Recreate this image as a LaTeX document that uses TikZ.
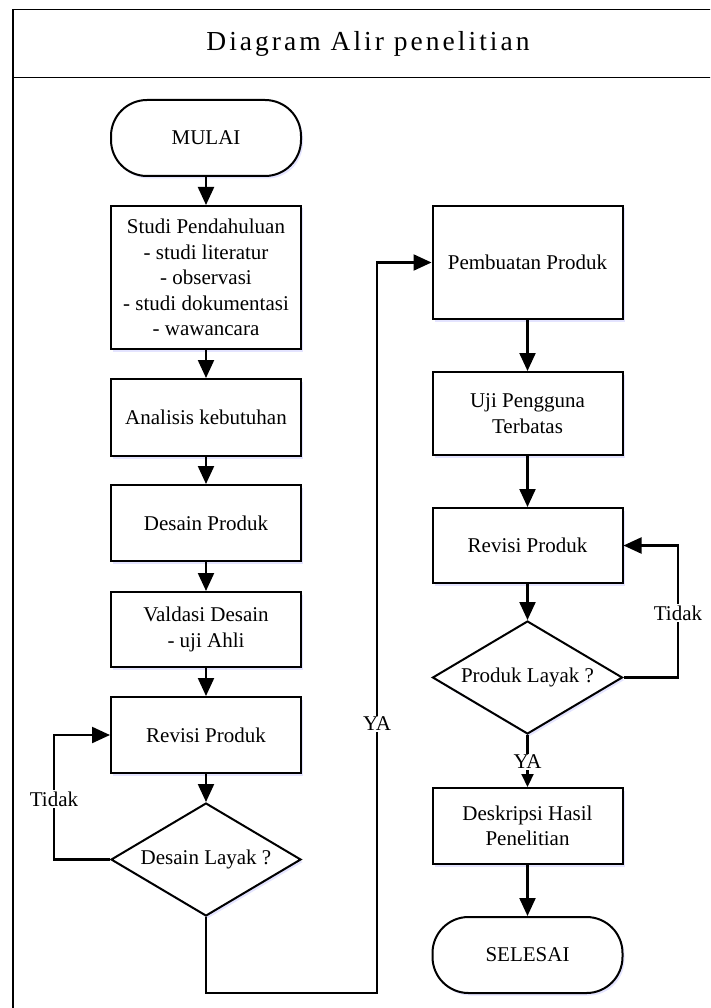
\documentclass[tikz,border=0pt]{standalone}
\usepackage{fontspec}
\setmainfont{Liberation Serif}
\usetikzlibrary{arrows.meta,shadows,shapes.geometric}

\begin{document}
\begin{tikzpicture}[x=1pt,y=-1pt,
  every node/.style={font=\fontsize{21}{25.5}\selectfont},
  shadowed/.style={drop shadow={shadow xshift=2pt,shadow yshift=-2.5pt,fill=blue!30!white,opacity=0.35}},
  proc/.style={draw,line width=2pt,fill=white,minimum width=190pt,inner sep=0pt,align=center,shadowed},
  term/.style={proc,rounded corners=36pt},
  decision/.style={draw,line width=2pt,fill=white,shape=diamond,minimum width=190pt,minimum height=113pt,aspect=1.68,inner sep=0pt,shadowed},
  conn/.style={line width=2.2pt},
  arr/.style={conn,-{Triangle[length=18pt,width=16pt]}},
  arrs/.style={conn,-{Triangle[length=13pt,width=12pt]}},
  lbl/.style={fill=white,inner sep=1.5pt}
]
\useasboundingbox (0,0) rectangle (710,1008);
\fill[white] (0,0) rectangle (710,1008);
\clip (0,0) rectangle (710,1008);

% frame
\draw[line width=1.8pt] (13,9.5) rectangle (740,1040);
\draw[line width=1.8pt] (13,77.5) -- (740,77.5);
\node (title) at (368,44) {\fontsize{27.5}{32}\selectfont\addfontfeature{LetterSpace=11}Diagram Alir penelitian};

% left column
\node[term,minimum height=76pt] (mulai) at (206,138) {MULAI};
\node[proc,minimum height=143pt] (studi) at (206,277.5) {Studi Pendahuluan\\- studi literatur\\- observasi\\- studi dokumentasi\\- wawancara};
\node[proc,minimum height=77pt] (analisis) at (206,417.5) {Analisis kebutuhan};
\node[proc,minimum height=76pt] (desain) at (206,523) {Desain Produk};
\node[proc,minimum height=75pt] (valdasi) at (206,629.5) {Valdasi Desain\\- uji Ahli};
\node[proc,minimum height=76pt] (revL) at (206,735) {Revisi Produk};
\node[decision] (dL) at (206,859.5) {Desain Layak ?};

% right column
\node[proc,minimum height=113pt] (pemb) at (527.5,262.5) {Pembuatan Produk};
\node[proc,minimum height=83pt] (uji) at (527.5,413.5) {Uji Pengguna\\Terbatas};
\node[proc,minimum height=75pt] (revR) at (527.5,545.5) {Revisi Produk};
\node[decision] (dR) at (527.5,677.5) {Produk Layak ?};
\node[proc,minimum height=76pt] (desk) at (527.5,826) {Deskripsi Hasil\\Penelitian};
\node[term,minimum height=76pt] (selesai) at (527.5,955) {SELESAI};

% helper coordinates
\coordinate (ybot) at (377,993);
\coordinate (tkL) at (54,0);
\coordinate (tkR) at (678,0);

% connectors left
\draw[arr] (mulai) -- (studi);
\draw[arr] (studi) -- (analisis);
\draw[arr] (analisis) -- (desain);
\draw[arr] (desain) -- (valdasi);
\draw[arr] (valdasi) -- (revL);
\draw[arr] (revL) -- (dL);
\draw[arr] (dL.west) -- (dL.west -| tkL) |- (revL.west);
\draw[arr] (dL.south) |- (ybot) |- (pemb.west);

% connectors right
\draw[arr] (pemb) -- (uji);
\draw[arr] (uji) -- (revR);
\draw[arr] (revR) -- (dR);
\draw[arr] (dR.east) -- (dR.east -| tkR) |- (revR.east);
\draw[arrs] (dR.south) -- (desk.north);
\draw[arr] (desk) -- (selesai);

% labels
\node[lbl] (tidakL) at (54,799) {Tidak};
\node[lbl] (yaL) at (377,724) {YA};
\node[lbl] (tidakR) at (678,613) {Tidak};
\node[lbl] (yaR) at (527.5,762) {YA};
\end{tikzpicture}
\end{document}
